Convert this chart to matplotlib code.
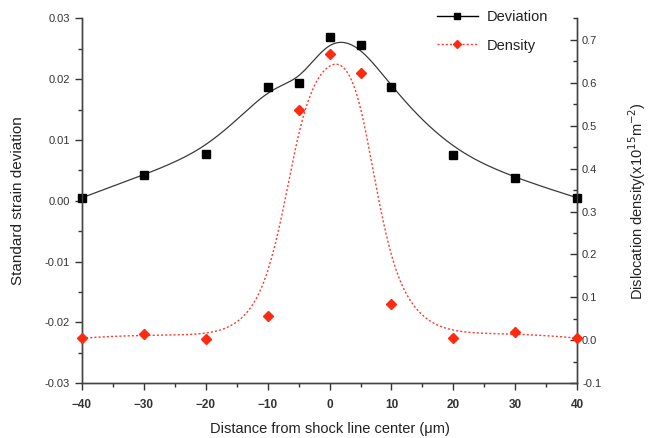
import numpy as np
import matplotlib.pyplot as plt
from matplotlib.ticker import MultipleLocator

plt.rcParams["font.family"] = ["Liberation Sans", "DejaVu Sans"]

# ---- Data ----
distance = [-40, -30, -20, -10, -5, 0, 5, 10, 20, 30, 40]  # um
deviation = [0.0005, 0.0043, 0.0077, 0.0188, 0.0194, 0.0270,
             0.0256, 0.0187, 0.0076, 0.0037, 0.0005]
density = [0.005, 0.015, 0.004, 0.057, 0.537, 0.668,
           0.623, 0.084, 0.005, 0.019, 0.005]  # x10^15 m^-2


def bspline(xs, ys, degree=3, samples=500):
    """Clamped cubic B-spline using the data points as control points."""
    ctrl = np.column_stack([xs, ys])
    n = len(ctrl)
    k = degree
    knots = np.concatenate([np.zeros(k), np.linspace(0, 1, n - k + 1), np.ones(k)])
    t = np.linspace(0, 1, samples)
    t[-1] -= 1e-9

    def basis(i, p):
        if p == 0:
            return np.where((knots[i] <= t) & (t < knots[i + 1]), 1.0, 0.0)
        out = np.zeros_like(t)
        d1 = knots[i + p] - knots[i]
        if d1 > 0:
            out += (t - knots[i]) / d1 * basis(i, p - 1)
        d2 = knots[i + p + 1] - knots[i + 1]
        if d2 > 0:
            out += (knots[i + p + 1] - t) / d2 * basis(i + 1, p - 1)
        return out

    B = np.array([basis(i, k) for i in range(n)])
    curve = B.T @ ctrl
    return curve[:, 0], curve[:, 1]


fig = plt.figure(figsize=(6.5, 4.38), dpi=100)
ax = fig.add_axes([0.126, 0.125, 0.762, 0.833])
ax2 = ax.twinx()

tick_color = "#333333"
label_color = "#222222"

# deviation: smoothed curve + squares
cx, cy = bspline(distance, deviation)
ax.plot(cx, cy, color="#3a3a3a", lw=0.9, zorder=2)
ax.plot(distance, deviation, ls="none", marker="s", ms=6, color="black",
        zorder=3, clip_on=False)

# density: dotted smoothed curve + diamonds
dx, dy = bspline(distance, density)
ax2.plot(dx, dy, color="#ff3b2f", lw=1.0, ls=(0, (1.5, 1.5)), zorder=2)
ax2.plot(distance, density, ls="none", marker="D", ms=5, color="#ff2a10",
         zorder=3, clip_on=False)

# axes ranges / ticks
ax.set_xlim(-40, 40)
ax.set_ylim(-0.03, 0.03)
ax2.set_ylim(-0.1, 0.75)

ax.xaxis.set_major_locator(MultipleLocator(10))
ax.xaxis.set_minor_locator(MultipleLocator(5))
ax.yaxis.set_major_locator(MultipleLocator(0.01))
ax.yaxis.set_minor_locator(MultipleLocator(0.005))
ax2.yaxis.set_major_locator(MultipleLocator(0.1))
ax2.yaxis.set_minor_locator(MultipleLocator(0.05))
ax.yaxis.set_major_formatter(plt.FormatStrFormatter("%.2f"))
ax2.yaxis.set_major_formatter(plt.FormatStrFormatter("%.1f"))

for a in (ax, ax2):
    a.spines["top"].set_visible(False)
    for s in a.spines.values():
        s.set_color("#444444")
        s.set_linewidth(1.0)

ax.tick_params(axis="both", which="major", direction="out", length=5,
               width=1, colors=tick_color, labelsize=8)
ax.tick_params(axis="both", which="minor", direction="out", length=3,
               width=1, colors=tick_color)
ax.tick_params(axis="x", pad=6, labelsize=8.5)
ax2.tick_params(axis="y", which="major", direction="in", length=5,
                width=1, colors=tick_color, labelsize=8)
ax2.tick_params(axis="y", which="minor", direction="in", length=3,
                width=1, colors=tick_color)
for lab in ax.get_xticklabels():
    lab.set_fontweight("bold")

ax.set_xlabel("Distance from shock line center (\u03bcm)", fontsize=10.5,
              color=label_color, labelpad=8)
ax.set_ylabel("Standard strain deviation", fontsize=11, color=label_color,
              labelpad=14)
ax2.set_ylabel("Dislocation density(x10$^{15}$m$^{-2}$)", fontsize=10.5,
               color=label_color, labelpad=18)

# legend
h1, = ax.plot([], [], color="black", lw=1.0, marker="s", ms=4.5)
h2, = ax.plot([], [], color="#ff3b2f", lw=1.0, ls=(0, (1.5, 1.5)),
              marker="D", ms=4.5, mfc="#ff2a10", mec="#ff2a10")
leg = ax2.legend([h1, h2], ["Deviation", "Density"], loc="upper right",
                 bbox_to_anchor=(548 / 650, 1 - 10 / 438),
                 bbox_transform=fig.transFigure, frameon=False, fontsize=10.5,
                 handlelength=2.8, handletextpad=0.6, labelspacing=1.0,
                 borderaxespad=0, borderpad=0)
for t in leg.get_texts():
    t.set_color(label_color)

fig.savefig("out.png", dpi=100)
